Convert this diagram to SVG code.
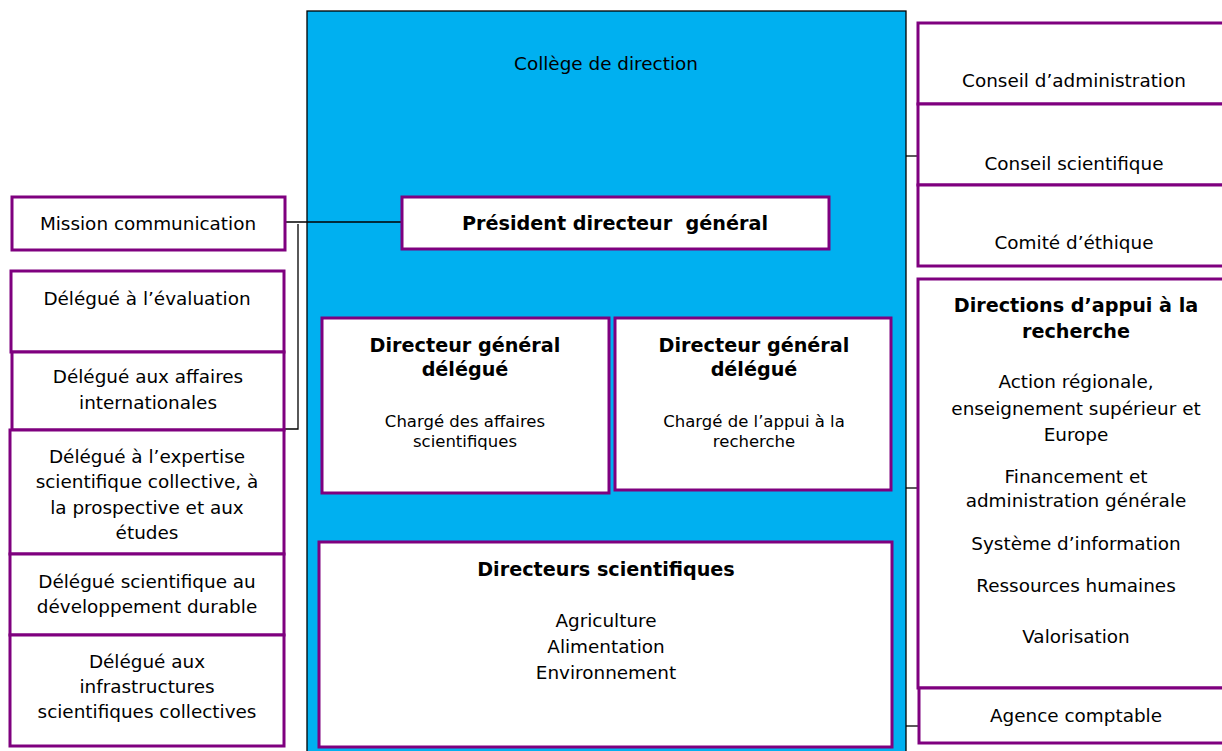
<svg xmlns="http://www.w3.org/2000/svg" width="1222" height="751" viewBox="0 0 1222 751">
<style>
text{font-family:"DejaVu Sans","Liberation Sans",sans-serif;fill:#000;text-anchor:middle;font-size:18.4px}
.b{font-weight:bold;font-size:19.2px;white-space:pre}
.s{font-size:16.5px}
.box{fill:#fff;stroke:#7F007F;stroke-width:3}
.con{stroke:#000;stroke-width:1.3;fill:none}
</style>
<rect width="1222" height="751" fill="#fff"/>
<g id="college">
<rect x="307" y="11" width="599" height="745" fill="#00B0F0" stroke="#000" stroke-width="1.3"/>
<text x="606" y="70">Collège de direction</text>
</g>
<g id="connectors">
<path class="con" d="M285 222H402"/>
<path class="con" d="M298 224V429H284"/>
<path class="con" d="M906 156H918"/>
<path class="con" d="M906 488H920"/>
<path class="con" d="M906 726H924"/>
</g>
<g id="pdg">
<rect class="box" x="402" y="197" width="427" height="52" stroke-width="2.5"/>
<text class="b" x="615" y="230" xml:space="preserve">Président directeur  général</text>
</g>
<g id="dgd1">
<rect class="box" x="322" y="318" width="287" height="175" stroke-width="2.5"/>
<text class="b" x="465" y="352">Directeur général</text>
<text class="b" x="465" y="376">délégué</text>
<text class="s" x="465" y="427">Chargé des affaires</text>
<text class="s" x="465" y="447">scientifiques</text>
</g>
<g id="dgd2">
<rect class="box" x="615" y="318" width="276" height="172" stroke-width="2.5"/>
<text class="b" x="754" y="352">Directeur général</text>
<text class="b" x="754" y="376">délégué</text>
<text class="s" x="754" y="427">Chargé de l’appui à la</text>
<text class="s" x="754" y="447">recherche</text>
</g>
<g id="ds">
<rect class="box" x="319" y="542" width="573" height="205" stroke-width="2.5"/>
<text class="b" x="606" y="576">Directeurs scientifiques</text>
<text x="606" y="627">Agriculture</text>
<text x="606" y="653">Alimentation</text>
<text x="606" y="679">Environnement</text>
</g>
<g id="mission">
<rect class="box" x="12" y="197" width="273" height="53"/>
<text x="148" y="230">Mission communication</text>
</g>
<g id="eval">
<rect class="box" x="11" y="271" width="273" height="81"/>
<text x="147" y="305">Délégué à l’évaluation</text>
</g>
<g id="intl">
<rect class="box" x="12" y="352" width="272" height="78"/>
<text x="148" y="383">Délégué aux affaires</text>
<text x="148" y="409">internationales</text>
</g>
<g id="expertise">
<rect class="box" x="10" y="430" width="274" height="124"/>
<text x="147" y="463">Délégué à l’expertise</text>
<text x="147" y="488">scientifique collective, à</text>
<text x="147" y="514">la prospective et aux</text>
<text x="147" y="539">études</text>
</g>
<g id="dd">
<rect class="box" x="10" y="554" width="274" height="81"/>
<text x="147" y="588">Délégué scientifique au</text>
<text x="147" y="613">développement durable</text>
</g>
<g id="infra">
<rect class="box" x="10" y="635" width="274" height="111"/>
<text x="147" y="668">Délégué aux</text>
<text x="147" y="693">infrastructures</text>
<text x="147" y="718">scientifiques collectives</text>
</g>
<g id="ca">
<rect class="box" x="918" y="23" width="310" height="81"/>
<text x="1074" y="87">Conseil d’administration</text>
</g>
<g id="cs">
<rect class="box" x="918" y="104" width="310" height="81"/>
<text x="1074" y="170">Conseil scientifique</text>
</g>
<g id="ce">
<rect class="box" x="918" y="185" width="310" height="81"/>
<text x="1074" y="249">Comité d’éthique</text>
</g>
<g id="dar">
<rect class="box" x="918" y="279" width="310" height="409"/>
<text class="b" x="1076" y="312">Directions d’appui à la</text>
<text class="b" x="1076" y="338">recherche</text>
<text x="1076" y="388">Action régionale,</text>
<text x="1076" y="415">enseignement supérieur et</text>
<text x="1076" y="441">Europe</text>
<text x="1076" y="483">Financement et</text>
<text x="1076" y="507">administration générale</text>
<text x="1076" y="550">Système d’information</text>
<text x="1076" y="592">Ressources humaines</text>
<text x="1076" y="643">Valorisation</text>
</g>
<g id="ac">
<rect class="box" x="919" y="688" width="310" height="55"/>
<text x="1076" y="722">Agence comptable</text>
</g>
</svg>
